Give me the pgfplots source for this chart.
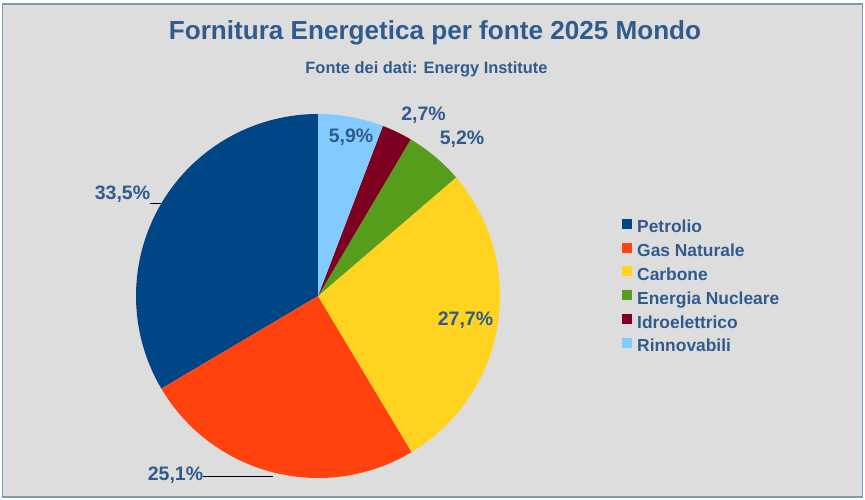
\documentclass[border=0pt]{standalone}
\usepackage{fontspec}
\setmainfont{Liberation Sans}
\usepackage{pgfplots}
\pgfplotsset{compat=1.18}
\definecolor{petrolio}{HTML}{004586}
\definecolor{gas}{HTML}{FF420E}
\definecolor{carbone}{HTML}{FFD320}
\definecolor{nucleare}{HTML}{579D1C}
\definecolor{idro}{HTML}{7E0021}
\definecolor{rinnov}{HTML}{83CAFF}
\definecolor{txtblue}{HTML}{2F5B8E}
\definecolor{bg}{HTML}{DDDDDD}
\definecolor{frame}{HTML}{7F99B8}
\begin{document}
\begin{tikzpicture}
\begin{axis}[
  x=1pt, y=1pt, xmin=0, xmax=865, ymin=0, ymax=500,
  hide axis, clip=false, scale only axis,
  legend cell align=left,
  legend image code/.code={\fill[#1] (0pt,0pt) rectangle (10pt,10pt);},
  legend style={at={(0.71908,0.5626)}, anchor=north west, draw=none, fill=none,
    inner sep=0pt, row sep=8pt,
    font=\fontsize{17.4}{17.4}\selectfont\bfseries, text=txtblue,
    nodes={inner sep=0pt, text height=12pt, text depth=4pt},
    /tikz/every odd column/.append style={column sep=5pt}},
  legend style={row sep=5.8pt},
]
% background
\fill[white] (axis cs:0,0) rectangle (axis cs:865,500);
\filldraw[fill=bg, draw=frame, line width=1.5pt] (axis cs:2.5,3) rectangle (axis cs:862.5,496);
% pie: start at 90 deg, counterclockwise; values in percent
\addplot[fill=petrolio, draw=none, domain=90:{90+3.6*33.5}, samples=90, variable=\t]
  ({318+182*cos(t)},{204+182*sin(t)}) -- (axis cs:318,204) -- cycle;
\addlegendentry{Petrolio}
\addplot[fill=gas, draw=none, domain={90+3.6*33.5}:{90+3.6*(33.5+25.1)}, samples=70, variable=\t]
  ({318+182*cos(t)},{204+182*sin(t)}) -- (axis cs:318,204) -- cycle;
\addlegendentry{Gas Naturale}
\addplot[fill=carbone, draw=none, domain={90+3.6*(33.5+25.1)}:{90+3.6*(33.5+25.1+27.7)}, samples=75, variable=\t]
  ({318+182*cos(t)},{204+182*sin(t)}) -- (axis cs:318,204) -- cycle;
\addlegendentry{Carbone}
\addplot[fill=nucleare, draw=none, domain={90+3.6*(33.5+25.1+27.7)}:{90+3.6*(33.5+25.1+27.7+5.2)}, samples=20, variable=\t]
  ({318+182*cos(t)},{204+182*sin(t)}) -- (axis cs:318,204) -- cycle;
\addlegendentry{Energia Nucleare}
\addplot[fill=idro, draw=none, domain={90+3.6*(33.5+25.1+27.7+5.2)}:{90+3.6*(33.5+25.1+27.7+5.2+2.7)}, samples=12, variable=\t]
  ({318+182*cos(t)},{204+182*sin(t)}) -- (axis cs:318,204) -- cycle;
\addlegendentry{Idroelettrico}
\addplot[fill=rinnov, draw=none, domain={90+3.6*(33.5+25.1+27.7+5.2+2.7)}:450, samples=20, variable=\t]
  ({318+182*cos(t)},{204+182*sin(t)}) -- (axis cs:318,204) -- cycle;
\addlegendentry{Rinnovabili}
% titles
\node[anchor=base, text=txtblue, font=\fontsize{26.1}{26.1}\selectfont\bfseries] at (axis cs:435,460.7) {Fornitura Energetica per fonte 2025 Mondo};
\node[anchor=base, text=txtblue, font=\fontsize{16.4}{16.4}\selectfont\bfseries] at (axis cs:426.5,426.7) {Fonte dei dati: Energy Institute};
% data labels
\begin{scope}[every node/.style={anchor=base, text=txtblue, inner sep=0pt, font=\fontsize{19.5}{19.5}\selectfont\bfseries}]
\node at (axis cs:122.5,300) {33,5\%};
\node at (axis cs:175.5,19) {25,1\%};
\node at (axis cs:465.5,174) {27,7\%};
\node at (axis cs:351,357) {5,9\%};
\node at (axis cs:423.5,379) {2,7\%};
\node at (axis cs:462,355) {5,2\%};
\end{scope}
% leader lines
\draw[black, line width=0.8pt] (axis cs:150,297) -- (axis cs:161,297);
\draw[black, line width=0.8pt] (axis cs:203,24) -- (axis cs:273,24);
\end{axis}
\end{tikzpicture}
\end{document}
